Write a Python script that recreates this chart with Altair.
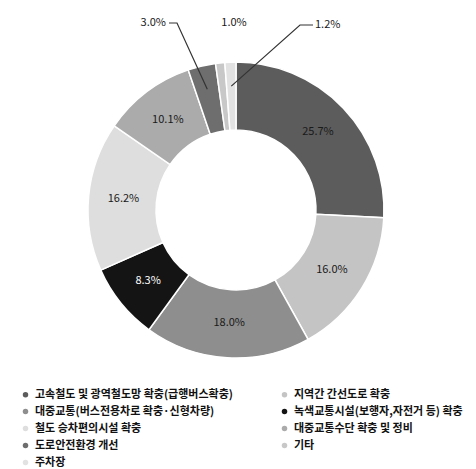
import math
import altair as alt
import pandas as pd

# ---- data ----
categories = [
    "고속철도 및 광역철도망 확충(급행버스확충)",
    "지역간 간선도로 확충",
    "대중교통(버스전용차로 확충·신형차량)",
    "녹색교통시설(보행자,자전거 등) 확충",
    "철도 승차편의시설 확충",
    "대중교통수단 확충 및 정비",
    "도로안전환경 개선",
    "기타",
    "주차장",
]
values = [25.7, 16.0, 18.0, 8.3, 16.2, 10.1, 3.0, 1.0, 1.2]
colors = ["#5c5c5c", "#c4c4c4", "#8e8e8e", "#141414", "#dedede",
          "#ababab", "#6e6e6e", "#c8c8c8", "#e2e2e2"]
inside = [True, True, True, True, True, True, False, False, False]
label_colors = ["#1a1a1a", "#1a1a1a", "#1a1a1a", "#ffffff", "#1a1a1a",
                "#1a1a1a", "#1a1a1a", "#1a1a1a", "#1a1a1a"]

# ---- layout constants ----
W, H = 460, 453
CX, CY = 228, 202
R_OUT, R_IN = 148, 80
FONT = "Noto Sans CJK KR"

labels = [f"{v:.1f}%" for v in values]
df = pd.DataFrame({
    "cat": categories,
    "value": values,
    "idx": list(range(len(values))),
    "inlabel": [l if s else "" for l, s in zip(labels, inside)],
    "lcolor": label_colors,
})

total = sum(values)
cum = []
c = 0.0
for v in values:
    cum.append(c + v / 2)
    c += v

def polar(i, r):
    a = 2 * math.pi * cum[i] / total
    return CX + r * math.sin(a), CY - r * math.cos(a)

# outside labels for small slices (index, text x, text y, align, knee x, end x)
outside = [(6, 158, 15, "right", 169, 161), (7, 226, 15, "center", None, None),
           (8, 307, 17, "left", 292, 305)]
line_rows = []
text_rows = []
for i, tx, ty, al, kx, ex in outside:
    text_rows.append({"t": labels[i], "x": tx, "y": ty, "align": al})
    if kx is not None:
        px, py = polar(i, 124)
        line_rows += [
            {"g": i, "o": 0, "x": ex, "y": ty},
            {"g": i, "o": 1, "x": kx, "y": ty},
            {"g": i, "o": 2, "x": px, "y": py},
        ]
ldf = pd.DataFrame(line_rows)
tdf = pd.DataFrame(text_rows)

base = alt.Chart(df).encode(
    theta=alt.Theta("value:Q", stack=True),
    order=alt.Order("idx:Q"),
    x=alt.value(CX),
    y=alt.value(CY),
)

arcs = base.mark_arc(outerRadius=R_OUT, innerRadius=R_IN, stroke="white",
                     strokeWidth=1.5).encode(
    color=alt.Color(
        "cat:N",
        sort=categories,
        scale=alt.Scale(domain=categories, range=colors),
        legend=alt.Legend(
            title=None, orient="none", legendX=12, legendY=381, columns=2,
            direction="horizontal",
            symbolType="circle", symbolSize=30, symbolStrokeWidth=0,
            labelFont=FONT, labelFontSize=11, labelFontWeight="bold",
            labelColor="#111", rowPadding=5, columnPadding=46, labelLimit=400,
        ),
    )
)

texts = base.mark_text(radius=113, font=FONT, fontSize=11).encode(
    text="inlabel:N",
    color=alt.Color("lcolor:N", scale=None),
)

lines = alt.Chart(ldf).mark_line(color="#333", strokeWidth=1.2).encode(
    x=alt.X("x:Q", scale=None, axis=None),
    y=alt.Y("y:Q", scale=None, axis=None),
    detail="g:N",
    order="o:Q",
)

ot_layers = []
for al in ["left", "center", "right"]:
    sub = tdf[tdf["align"] == al]
    if len(sub):
        ot_layers.append(
            alt.Chart(sub).mark_text(font=FONT, fontSize=11, color="#1a1a1a",
                                     baseline="middle", align=al).encode(
                x=alt.X("x:Q", scale=None, axis=None),
                y=alt.Y("y:Q", scale=None, axis=None),
                text="t:N",
            )
        )

chart = alt.layer(arcs, texts, lines, *ot_layers).properties(
    width=W, height=H, padding=0
).configure_view(stroke=None)

chart.save("out.html", embed_options={"renderer": "svg", "actions": False})
